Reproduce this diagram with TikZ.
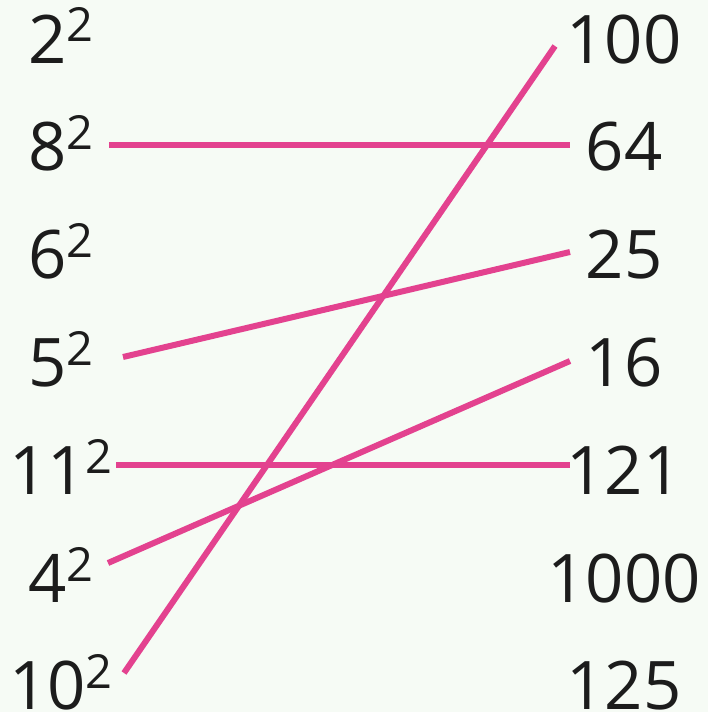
\documentclass[tikz,border=0pt]{standalone}
\usepackage{fontspec}
\setmainfont{Open Sans}
\usepackage{tikz}
\usetikzlibrary{calc,positioning}

\definecolor{bgmint}{HTML}{F6FBF5}
\definecolor{linkpink}{HTML}{E3428F}
\definecolor{inkdark}{HTML}{1C1C1C}

% number with a raised square
\newcommand{\sqd}[1]{#1\raisebox{21pt}{\fontsize{47}{47}\selectfont 2}}

\begin{document}
\begin{tikzpicture}[
  x=1pt, y=1pt,
  num/.style={inner sep=0pt, anchor=base, text=inkdark,
              font=\fontsize{67}{67}\selectfont},
  link/.style={draw=linkpink, line width=6pt}
]
\fill[bgmint] (0,0) rectangle (708,-712);
\useasboundingbox (0,0) rectangle (708,-712);
% left column
\node[num] (l2)  at (61,-63)    {\sqd{2}};
\node[num] (l8)  at (61,-170.8) {\sqd{8}};
\node[num] (l6)  at (61,-278.6) {\sqd{6}};
\node[num] (l5)  at (61,-386.4) {\sqd{5}};
\node[num] (l11) at (61,-494.2) {\sqd{11}};
\node[num] (l4)  at (61,-602)   {\sqd{4}};
\node[num] (l10) at (61,-709.8) {\sqd{10}};
% right column
\node[num] (r100)  at (624,-63)    {100};
\node[num] (r64)   at (624,-170.8) {64};
\node[num] (r25)   at (624,-278.6) {25};
\node[num] (r16)   at (624,-386.4) {16};
\node[num] (r121)  at (624,-494.2) {121};
\node[num] (r1000) at (624,-602)   {1000};
\node[num] (r125)  at (624,-709.8) {125};
% matches
\draw[link] ([shift={(48,25.8)}]l8.base)  -- ([shift={(-54,25.8)}]r64.base);
\draw[link] ([shift={(62,29.4)}]l5.base)  -- ([shift={(-54,26.6)}]r25.base);
\draw[link] ([shift={(55,29.2)}]l11.base) -- ([shift={(-54,29.2)}]r121.base);
\draw[link] ([shift={(47,39)}]l4.base)    -- ([shift={(-54,25.4)}]r16.base);
\draw[link] ([shift={(63,36.8)}]l10.base) -- ([shift={(-69,17)}]r100.base);
\end{tikzpicture}
\end{document}
